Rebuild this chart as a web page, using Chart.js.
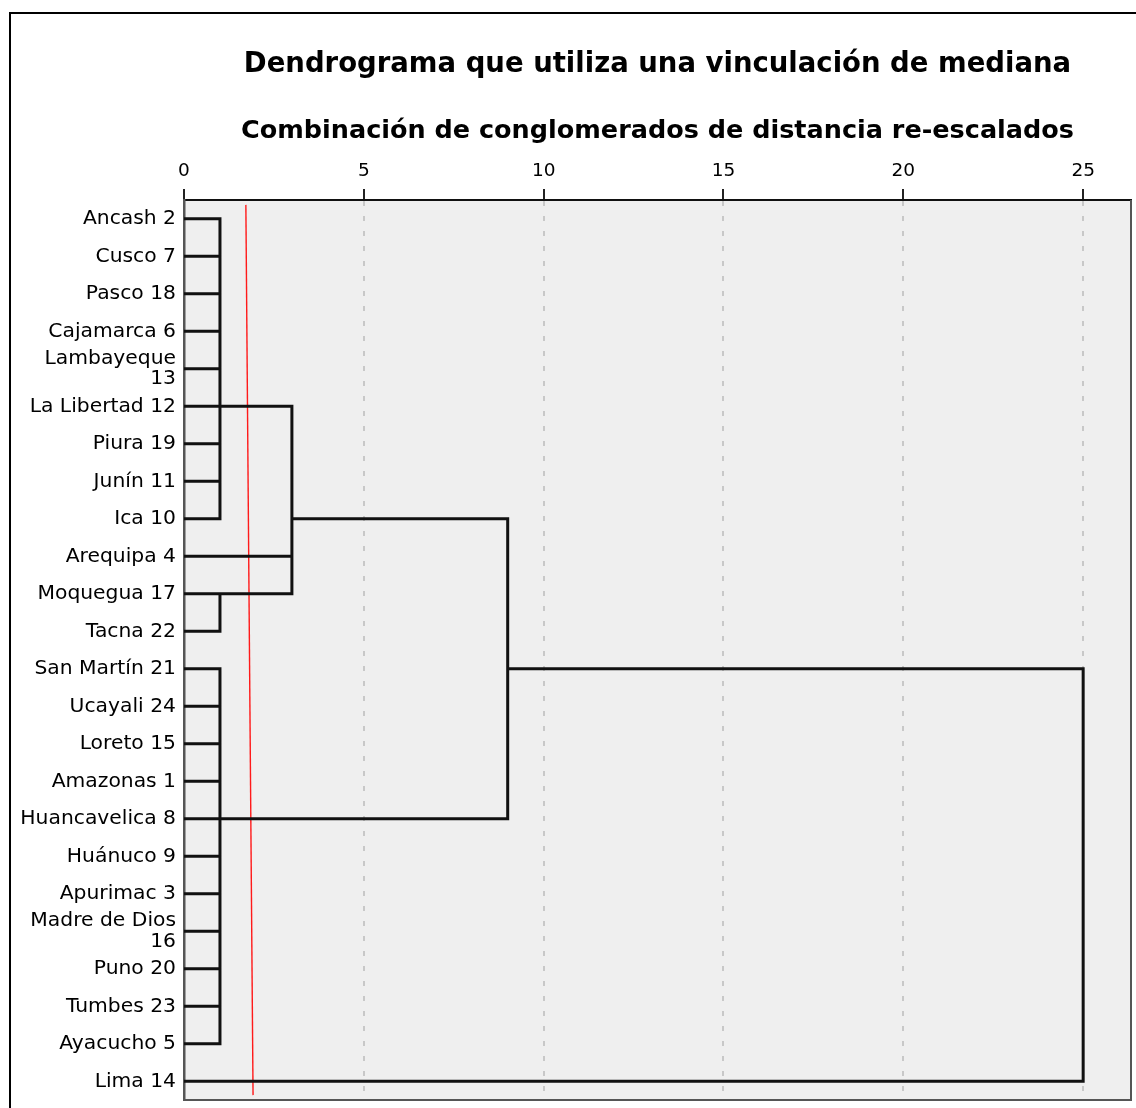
<!DOCTYPE html>
<html>
<head>
<meta charset="utf-8">
<script src="https://cdn.jsdelivr.net/npm/chart.js@4.4.0/dist/chart.umd.min.js"></script>
<style>
  html, body { margin: 0; padding: 0; background: #fff; overflow: hidden; }
  #marco { position: absolute; left: 9px; top: 12px; width: 1200px; height: 1200px; border: 2px solid #000; }
  #wrap { position: absolute; left: 0; top: 0; width: 1136px; height: 1108px; }
</style>
</head>
<body>
<div id="marco"></div>
<div id="wrap"><canvas id="dendro"></canvas></div>
<script>
// dendrograma — vinculación de mediana (SPSS)

var casos = ['Ancash 2', 'Cusco 7', 'Pasco 18', 'Cajamarca 6', ['Lambayeque', '13'], 'La Libertad 12',
  'Piura 19', 'Junín 11', 'Ica 10', 'Arequipa 4', 'Moquegua 17', 'Tacna 22', 'San Martín 21',
  'Ucayali 24', 'Loreto 15', 'Amazonas 1', 'Huancavelica 8', 'Huánuco 9', 'Apurimac 3',
  ['Madre de Dios', '16'], 'Puno 20', 'Tumbes 23', 'Ayacucho 5', 'Lima 14'];

var xTicks = [0, 5, 10, 15, 20, 25];

// fusiones: id < 24 = caso (fila), id >= 24 = fusión anterior (24 + índice)
var fusionAltura = [1, 1, 3, 1, 9, 25];
var fusionFila   = [5, 10, 8, 16, 12, 23];
var fusionHijos  = [
  [0, 1, 2, 3, 4, 5, 6, 7, 8],
  [10, 11],
  [24, 9, 25],
  [12, 13, 14, 15, 16, 17, 18, 19, 20, 21, 22],
  [26, 27],
  [28, 23]
];

// línea roja de corte (trazada a mano)
var corteX = [1.72, 1.92];
var corteY = [-0.37, 23.37];

function nodo(id) {
  if (id < casos.length) return { fila: id, altura: 0 };
  var k = id - casos.length;
  return { fila: fusionFila[k], altura: fusionAltura[k] };
}

var ramas = [];
fusionHijos.forEach(function(hijos, k) {
  var h = fusionAltura[k];
  var filas = [];
  hijos.forEach(function(id) {
    var n = nodo(id);
    filas.push(n.fila);
    ramas.push({ x: n.altura, y: n.fila }, { x: h, y: n.fila }, { x: null, y: null });
  });
  ramas.push({ x: h, y: Math.min.apply(null, filas) }, { x: h, y: Math.max.apply(null, filas) }, { x: null, y: null });
});

var corte = corteX.map(function(x, i) { return { x: x, y: corteY[i] }; });

var fondoPlot = {
  id: 'fondoPlot',
  beforeDraw: function(chart) {
    var a = chart.chartArea, ctx = chart.ctx;
    ctx.save();
    ctx.fillStyle = '#efefef';
    ctx.fillRect(a.left, a.top, a.right - a.left, a.bottom - a.top);
    ctx.restore();
  },
  afterDatasetsDraw: function(chart) {
    var a = chart.chartArea, ctx = chart.ctx;
    ctx.save();
    ctx.strokeStyle = '#555';
    ctx.lineWidth = 2;
    ctx.beginPath();
    ctx.moveTo(a.right, a.top);
    ctx.lineTo(a.right, a.bottom);
    ctx.lineTo(a.left, a.bottom);
    ctx.stroke();
    ctx.restore();
  }
};

new Chart(document.getElementById('dendro'), {
  type: 'scatter',
  data: {
    datasets: [{
      data: ramas,
      showLine: true,
      spanGaps: false,
      borderColor: '#111',
      borderWidth: 3,
      borderCapStyle: 'square',
      borderJoinStyle: 'miter',
      pointRadius: 0,
      pointHoverRadius: 0
    }, {
      data: corte,
      showLine: true,
      borderColor: '#ff1a1a',
      borderWidth: 1.4,
      pointRadius: 0,
      pointHoverRadius: 0
    }]
  },
  options: {
    responsive: true, maintainAspectRatio: false, animation: false,
    layout: { padding: { left: 0, right: 5, top: 0, bottom: 8 } },
    plugins: {
      legend: { display: false },
      tooltip: { enabled: false },
      title: {
        display: true, fullSize: false,
        text: 'Dendrograma que utiliza una vinculación de mediana',
        color: '#000',
        font: { family: 'DejaVu Sans', size: 27.5, weight: 'bold' },
        padding: { top: 48.5, bottom: 20 }
      },
      subtitle: {
        display: true, fullSize: false,
        text: 'Combinación de conglomerados de distancia re-escalados',
        color: '#000',
        font: { family: 'DejaVu Sans', size: 25.5, weight: 'bold' },
        padding: { top: 15, bottom: 0 }
      }
    },
    scales: {
      x: {
        type: 'linear', position: 'top', min: 0, max: 26.33,
        afterBuildTicks: function(s) { s.ticks = xTicks.map(function(v) { return { value: v }; }); },
        afterFit: function(s) { s.height = 52.9; },
        grid: {
          color: function(c) { return c.tick && c.tick.value === 0 ? 'rgba(0,0,0,0)' : '#c8c8c8'; },
          lineWidth: 2, tickLength: 11, tickColor: '#222', tickWidth: 2
        },
        border: { color: '#111', width: 2, dash: [5, 10] },
        ticks: { color: '#000', padding: 7, maxRotation: 0, font: { family: 'DejaVu Sans', size: 18.5 } }
      },
      y: {
        type: 'linear', reverse: true, min: -0.5, max: 23.5,
        afterBuildTicks: function(s) { s.ticks = casos.map(function(c, i) { return { value: i }; }); },
        afterFit: function(s) { s.width = 184; s.paddingTop = 0; s.paddingBottom = 0; },
        grid: { display: false, drawTicks: false },
        border: { color: '#555', width: 2.5 },
        ticks: {
          autoSkip: false, color: '#000', padding: 8,
          font: { family: 'DejaVu Sans', size: 20.3, lineHeight: 1 },
          callback: function(v) { return casos[v]; }
        }
      }
    }
  },
  plugins: [fondoPlot]
});
</script>
</body>
</html>
